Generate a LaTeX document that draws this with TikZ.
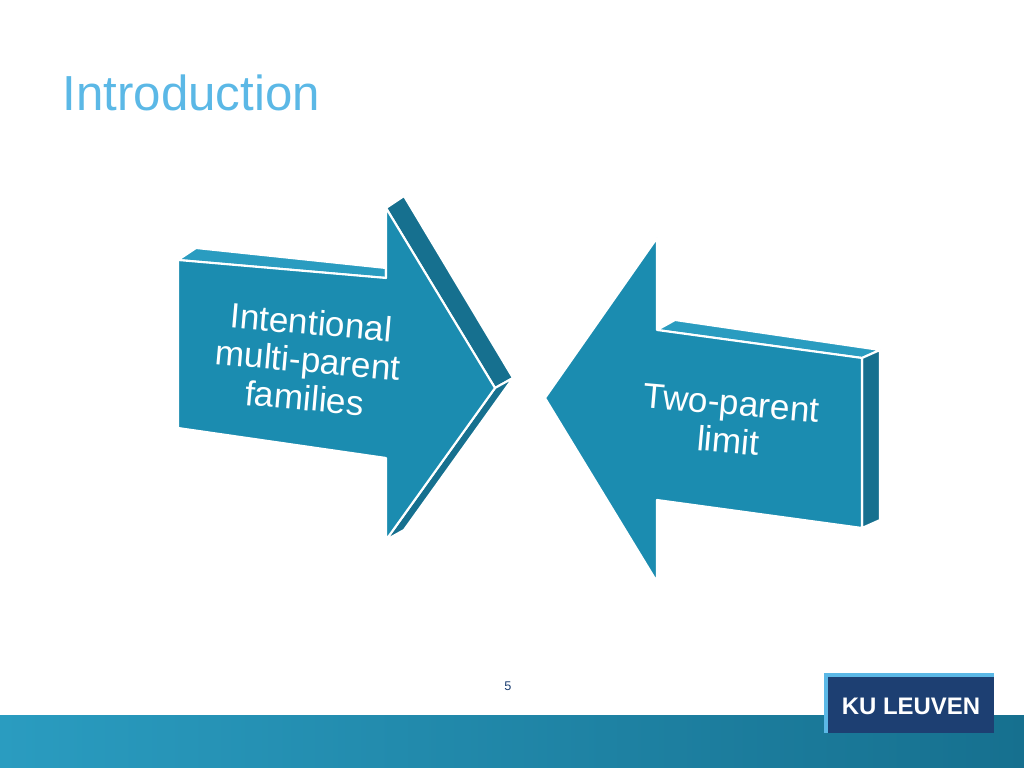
\documentclass[tikz,border=0pt]{standalone}
\usepackage{fontspec}
\setmainfont{Liberation Sans}
\definecolor{arrowfront}{HTML}{1B8CB0}
\definecolor{arrowside}{HTML}{16708F}
\definecolor{arrowtop}{HTML}{2A9CC0}
\definecolor{titleblue}{HTML}{5BB8E6}
\definecolor{kublue}{HTML}{1D3F72}
\begin{document}
\begin{tikzpicture}[x=0.01cm, y=-0.01cm, line join=round]
\tikzstyle{face}=[draw=white, line width=0.6pt]
\tikzstyle{arrowtext}=[text=white, align=center, font=\fontsize{10}{10.8}\selectfont, rotate=-5]
\useasboundingbox (0,0) rectangle (1024,768);
% bottom bar
\shade[left color=arrowtop, right color=arrowside] (0,716) rectangle (1024,768);
% title
\node[anchor=west, inner sep=0pt, text=titleblue, font=\fontsize{14}{14}\selectfont] (title) at (62,93) {Introduction};
% left arrow
\fill[arrowtop, face] (178,260) -- (196,248) -- (386,268) -- (386,278) -- cycle;
\fill[arrowside, face] (386,208) -- (404,196) -- (513,378) -- (495,388) -- cycle;
\fill[arrowside, face] (495,388) -- (513,378) -- (404,530) -- (386,540) -- cycle;
\fill[arrowfront, face] (178,260) -- (386,278) -- (386,208) -- (495,388) -- (386,540)
  -- (386,458) -- (178,428) -- cycle;
\node[arrowtext] (left) at (308,360) {Intentional\\multi-parent\\families};
% right arrow
\fill[arrowtop, face] (657,330) -- (675,320) -- (880,350) -- (862,358) -- cycle;
\fill[arrowside, face] (862,358) -- (880,350) -- (880,520) -- (862,528) -- cycle;
\fill[arrowfront, face] (545,398) -- (657,238) -- (657,330) -- (862,358) -- (862,528)
  -- (657,500) -- (657,582) -- cycle;
\node[arrowtext] (right) at (730,422) {Two-parent\\limit};
% page number
\node[font=\fontsize{3.6}{4}\selectfont, text=kublue] (page) at (508,686) {5};
% logo
\fill[titleblue] (824,673) rectangle (994,733);
\fill[kublue] (828,677) rectangle (994,733);
\node[text=white, font=\bfseries\fontsize{6.8}{7}\selectfont] (logo) at (911,706) {KU LEUVEN};
\end{tikzpicture}
\end{document}
